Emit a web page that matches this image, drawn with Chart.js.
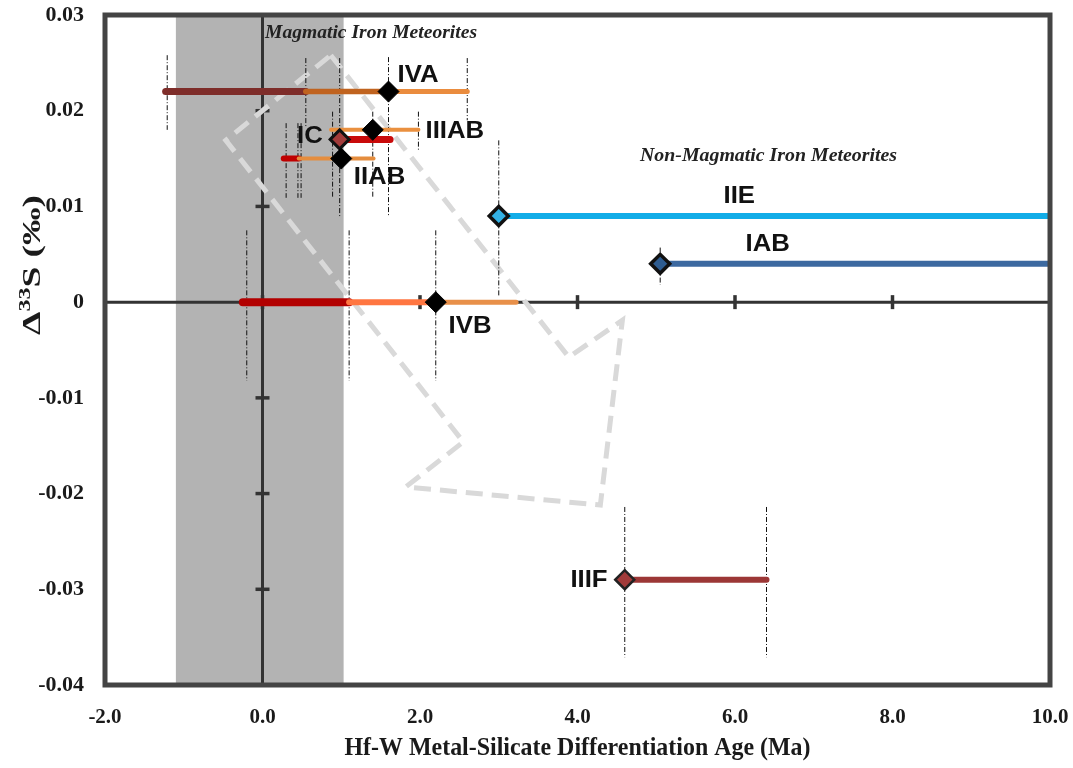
<!DOCTYPE html>
<html><head><meta charset="utf-8">
<script src="https://cdn.jsdelivr.net/npm/chart.js@4.4.0/dist/chart.umd.min.js"></script>
<style>html,body{margin:0;padding:0;background:#fff}#wrap{width:1073px;height:768px;position:relative}</style>
</head><body><div id="wrap"><canvas id="c"></canvas></div>
<script>
// ---------- DATA ----------
const groups  = ['IVA','IIIAB','IC','IIAB','IVB','IIE','IAB','IIIF'];
const hfwAge  = [1.6, 1.4, 0.98, 1.0, 2.2, 3.0, 5.05, 4.6];
const d33S    = [0.022, 0.018, 0.017, 0.015, 0.0, 0.009, 0.004, -0.029];

// age-range segments (group index, start, end)
const segGroup = [0, 0, 0, 1, 2, 3, 3, 4, 4, 4, 5, 6, 7];
const segStart = [-1.23, 0.55, 1.6, 0.87, 0.98, 0.27, 0.46, -0.25, 1.1, 2.2, 3.0, 5.05, 4.6];
const segEnd   = [0.55, 1.6, 2.6, 1.98, 1.62, 0.46, 1.41, 1.1, 2.2, 3.22, 10, 10, 6.4];

// vertical dash-dot bound markers
const boundX   = [-1.21, 0.55, 1.6, 2.6, 0.89, 1.4, 1.98, 0.98, 0.3, 0.45, 0.49, 3.0, 5.05, -0.2, 1.1, 2.2, 4.6, 6.4];
const boundTop = [0.0258, 0.0255, 0.0256, 0.0255, 0.0199, 0.0199, 0.0199, 0.0255, 0.0187, 0.0187, 0.0187, 0.0169, 0.0057, 0.0075, 0.0075, 0.0075, -0.0214, -0.0214];
const boundBot = [0.018, 0.0182, 0.0089, 0.019, 0.0109, 0.0109, 0.0159, 0.0089, 0.0109, 0.0109, 0.0109, 0.0007, 0.0018, -0.0082, -0.0082, -0.0082, -0.0371, -0.0371];

// dashed trend arrow outline
const trendX = [0.867, 3.89, 4.57, 4.29, 1.82, 2.55, -0.466, 0.867];
const trendY = [0.0258, -0.00575, -0.00188, -0.0212, -0.0193, -0.0146, 0.0169, 0.0258];

// shaded band
const bandX = [-1.1, 1.03];

// ticks
const xTicks = [-2, 0, 2, 4, 6, 8, 10];
const xTickLabels = ['-2.0','0.0','2.0','4.0','6.0','8.0','10.0'];
const yTicks = [0.03, 0.02, 0.01, 0, -0.01, -0.02, -0.03, -0.04];
const yTickLabels = ['0.03','0.02','0.01','0','-0.01','-0.02','-0.03','-0.04'];

// group label anchors (data coords)
const labelX = [1.714, 2.07, 0.765, 1.159, 2.363, 5.854, 6.133, 4.382];
const labelY = [0.0237, 0.01776, 0.01724, 0.01296, -0.00261, 0.01097, 0.00596, -0.02905];

// ---------- STYLES ----------
const segKind = ['brown','dkorange','orange','orange3','red','red2','orange2','dkred','coral','orange4','cyan','blue','brown2'];
const segStyle = {
  brown:{c:'#7e2d2a',w:7}, dkorange:{c:'#c0631f',w:5.5}, orange:{c:'#ea8c3e',w:5},
  orange3:{c:'#ea903f',w:4}, red:{c:'#c90a0a',w:7}, red2:{c:'#c00000',w:6},
  orange2:{c:'#e58d3e',w:4}, dkred:{c:'#b20000',w:8}, coral:{c:'#ff7641',w:6},
  orange4:{c:'#e8904a',w:5}, cyan:{c:'#12ade8',w:6}, blue:{c:'#3c69a0',w:6},
  brown2:{c:'#9c3736',w:6}
};
const ptFill   = ['#000','#000','#a23b3a','#000','#000','#33b2e6','#2e5c90','#a23b3a'];
const ptBorder = ['#000','#000','#111','#000','#000','#111','#111','#222'];
const ptBW     = [1,1,3,1,1,3.5,3.5,2.5];
const labelAlign = ['left','left','right','left','left','left','left','right'];

// ---------- DATASETS (in drawing order, bottom first) ----------
const ds = [];
ds.push({type:'line', data: trendX.map((v,i)=>({x:v,y:trendY[i]})), borderColor:'#d9d9d9',
  borderWidth:5, borderDash:[17,9], pointRadius:0, tension:0, fill:false, borderCapStyle:'butt', borderJoinStyle:'miter'});
boundX.forEach((v,i)=>ds.push({type:'line', data:[{x:v,y:boundTop[i]},{x:v,y:boundBot[i]}],
  borderColor:'#111', borderWidth:1, borderDash:[5,2,1,2], pointRadius:0}));
segStart.forEach((s,i)=>{const st=segStyle[segKind[i]]; const g=segGroup[i];
  ds.push({type:'line', data:[{x:s,y:d33S[g]},{x:segEnd[i],y:d33S[g]}], borderColor:st.c,
    borderWidth:st.w, pointRadius:0, borderCapStyle:(segEnd[i]>=10?'butt':'round')});});
ds.push({type:'scatter', data: hfwAge.map((v,i)=>({x:v,y:d33S[i]})), pointStyle:'rectRot',
  pointRadius:hfwAge.map((v,i)=>ptBW[i]>2?9.5:10.5), backgroundColor:ptFill, borderColor:ptBorder, borderWidth:ptBW});
ds.forEach((d,i)=>{d.order = 1000 - i;});

const serif = '"Liberation Serif","Times New Roman",serif';
const sans  = '"Liberation Sans",Arial,sans-serif';

function fitText(ctx, txt, x, y, targetW){
  const w = ctx.measureText(txt).width;
  ctx.save(); ctx.translate(x, y); ctx.scale(targetW/w, 1); ctx.fillText(txt, 0, 0); ctx.restore();
}

const deco = {
  id:'deco',
  beforeDatasetsDraw(chart){
    const {ctx, chartArea:a, scales:{x,y}} = chart;
    ctx.save();
    ctx.fillStyle = '#b3b3b3';
    const b0 = x.getPixelForValue(bandX[0]), b1 = x.getPixelForValue(bandX[1]);
    ctx.fillRect(b0, a.top, b1-b0, a.bottom-a.top);
    const x0 = x.getPixelForValue(0), y0 = y.getPixelForValue(0);
    ctx.strokeStyle = '#333'; ctx.lineWidth = 3;
    ctx.beginPath(); ctx.moveTo(x0,a.top); ctx.lineTo(x0,a.bottom);
    ctx.moveTo(a.left,y0); ctx.lineTo(a.right,y0); ctx.stroke();
    ctx.lineWidth = 3.5;
    yTicks.forEach(v=>{const p=y.getPixelForValue(v); ctx.beginPath(); ctx.moveTo(x0-7,p); ctx.lineTo(x0+7,p); ctx.stroke();});
    xTicks.forEach(v=>{const p=x.getPixelForValue(v); ctx.beginPath(); ctx.moveTo(p,y0-7); ctx.lineTo(p,y0+7); ctx.stroke();});
    ctx.restore();
  },
  afterDatasetsDraw(chart){
    const {ctx, chartArea:a, scales:{x,y}} = chart;
    ctx.save();
    ctx.strokeStyle = '#444'; ctx.lineWidth = 5;
    ctx.strokeRect(a.left, a.top, a.right-a.left, a.bottom-a.top);
    // group labels
    ctx.fillStyle = '#111'; ctx.font = 'bold 23px '+sans; ctx.textBaseline = 'middle';
    groups.forEach((g,i)=>{
      ctx.save();
      ctx.translate(x.getPixelForValue(labelX[i]), y.getPixelForValue(labelY[i]));
      ctx.scale(1.12, 1);
      ctx.textAlign = labelAlign[i];
      ctx.fillText(g, 0, 0);
      ctx.restore();
    });
    // italic annotations
    ctx.font = 'italic bold 18px '+serif; ctx.textAlign = 'left'; ctx.fillStyle = '#222';
    fitText(ctx, 'Magmatic Iron Meteorites', 265, 33, 212);
    fitText(ctx, 'Non-Magmatic Iron Meteorites', 640, 156, 257);
    // x title
    ctx.fillStyle = '#1a1a1a';
    ctx.font = 'bold 25px '+serif; ctx.textAlign = 'center';
    fitText(ctx, 'Hf-W Metal-Silicate Differentiation Age (Ma)', (a.left+a.right)/2, 749, 466);
    // y title
    ctx.save(); ctx.translate(31, 265); ctx.rotate(-Math.PI/2);
    ctx.textAlign = 'left'; ctx.textBaseline = 'alphabetic';
    const big = 'bold 25px '+serif, small = 'bold 16px '+serif;
    ctx.font = big; const w1 = ctx.measureText('\u0394').width, w3 = ctx.measureText('S (\u2030)').width;
    ctx.font = small; const w2 = ctx.measureText('33').width;
    const tot = w1+w2+w3, tl = 140, sx = tl/tot;
    ctx.scale(sx,1);
    let px = -tot/2;
    ctx.font = big; ctx.fillText('\u0394', px, 9); px += w1;
    ctx.font = small; ctx.fillText('33', px, -1); px += w2;
    ctx.font = big; ctx.fillText('S (\u2030)', px, 9);
    ctx.restore();
    ctx.restore();
  }
};

new Chart(document.getElementById('c'), {
  data:{datasets:ds},
  options:{
    responsive:true, maintainAspectRatio:false, animation:false, events:[],
    layout:{padding:{left:0,right:23,top:15,bottom:0}},
    plugins:{legend:{display:false}, tooltip:{enabled:false}},
    scales:{
      x:{type:'linear', min:-2, max:10,
        grid:{display:false, drawTicks:false}, border:{display:false},
        afterBuildTicks(s){s.ticks = xTicks.map(v=>({value:v}));},
        afterFit(s){s.height = 83; s.paddingLeft = 0; s.paddingRight = 0;},
        ticks:{padding:20, color:'#1a1a1a', font:{family:serif, weight:'bold', size:21},
          callback:(v)=>xTickLabels[xTicks.indexOf(v)] ?? ''}},
      y:{type:'linear', min:-0.04, max:0.03,
        grid:{display:false, drawTicks:false}, border:{display:false},
        afterBuildTicks(s){s.ticks = yTicks.map(v=>({value:v}));},
        afterFit(s){s.width = 105; s.paddingTop = 0; s.paddingBottom = 0;},
        ticks:{padding:21, color:'#1a1a1a', font:{family:serif, weight:'bold', size:22},
          callback:(v)=>{const i=yTicks.findIndex(t=>Math.abs(t-v)<1e-9); return i>=0?yTickLabels[i]:'';}}}
    }
  },
  plugins:[deco]
});
</script></body></html>
